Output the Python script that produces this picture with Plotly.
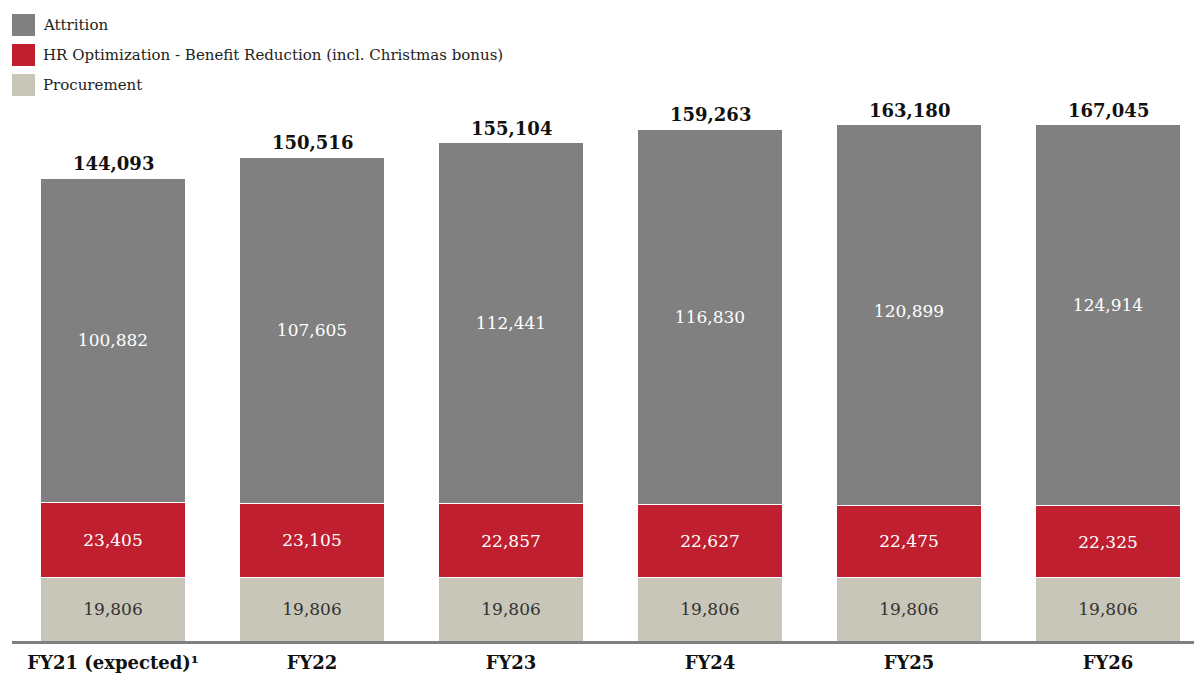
import plotly.graph_objects as go

# Cost-saving components per fiscal year
categories = ["FY21 (expected)¹", "FY22", "FY23", "FY24", "FY25", "FY26"]
procurement = [19806, 19806, 19806, 19806, 19806, 19806]
hr_optimization = [23405, 23105, 22857, 22627, 22475, 22325]
attrition = [100882, 107605, 112441, 116830, 120899, 124914]
totals = [144093, 150516, 155104, 159263, 163180, 167045]

series_names = [
    "Attrition",
    "HR Optimization - Benefit Reduction (incl. Christmas bonus)",
    "Procurement",
]
series_colors = ["#808080", "#c01f2f", "#c8c6b9"]
label_colors = ["#ffffff", "#ffffff", "#333333"]

Y_MAX = 160600
FONT = "Georgia, 'DejaVu Serif', serif"

W, H = 1194, 673
M_L, M_R, M_T, M_B = 12, 0, 125, 32
plot_w = W - M_L - M_R
plot_h = H - M_T - M_B

fig = go.Figure()

# Stacked from the bottom: procurement, HR optimization, attrition
stack = [
    (series_names[2], procurement, series_colors[2], label_colors[2]),
    (series_names[1], hr_optimization, series_colors[1], label_colors[1]),
    (series_names[0], attrition, series_colors[0], label_colors[0]),
]
x_idx = list(range(len(categories)))
for name, vals, color, tcol in stack:
    fig.add_trace(go.Bar(
        x=x_idx, y=vals, name=name,
        marker=dict(color=color, line=dict(color="#ffffff", width=1)),
        width=0.725,
        texttemplate="%{y:,}",
        textposition="inside",
        insidetextanchor="middle",
        textangle=0,
        textfont=dict(family=FONT, size=17, color=tcol),
        showlegend=False,
        hoverinfo="skip",
    ))

# Totals above each stack
for i, t in enumerate(totals):
    fig.add_annotation(
        x=i, y=min(t, Y_MAX), xref="x", yref="y",
        text=f"<b>{t:,}</b>", showarrow=False,
        yanchor="bottom", yshift=2,
        font=dict(family=FONT, size=18, color="#111111"),
    )


def px_x(px):
    return (px - M_L) / plot_w


def px_y(py):
    return (H - M_B - py) / plot_h


# Legend swatches and labels
for k, (name, color) in enumerate(zip(series_names, series_colors)):
    cy = 25 + 30 * k
    fig.add_shape(
        type="rect", xref="paper", yref="paper",
        x0=px_x(12), x1=px_x(35), y0=px_y(cy + 11), y1=px_y(cy - 11),
        fillcolor=color, line=dict(width=0),
    )
    fig.add_annotation(
        x=px_x(41), y=px_y(cy), xref="paper", yref="paper",
        text=name, showarrow=False, xanchor="left", yanchor="middle",
        font=dict(family=FONT, size=15, color="#222222"),
    )

fig.update_layout(
    barmode="stack",
    width=W, height=H,
    margin=dict(l=M_L, r=M_R, t=M_T, b=M_B),
    paper_bgcolor="#ffffff", plot_bgcolor="#ffffff",
    bargap=0.275,
    xaxis=dict(
        range=[-0.5075, 5.432],
        tickmode="array", tickvals=x_idx, ticktext=categories,
        tickfont=dict(family=FONT, size=18, color="#111111", weight="bold"),
        ticklabelstandoff=3,
        showline=True, linecolor="#808080", linewidth=3,
        showgrid=False, zeroline=False, ticks="",
    ),
    yaxis=dict(
        range=[0, Y_MAX], visible=False, showgrid=False, zeroline=False,
    ),
)

fig.write_html("out.html")
